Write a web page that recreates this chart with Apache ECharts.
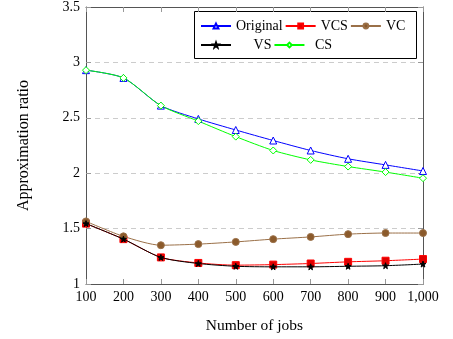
<!DOCTYPE html>
<html><head><meta charset="utf-8">
<script src="https://cdn.jsdelivr.net/npm/echarts@6/dist/echarts.min.js"></script>
<style>html,body{margin:0;padding:0;background:#fff}#c{width:453px;height:339px}</style>
</head><body><div id="c"></div>
<script>
const jobs = [100,200,300,400,500,600,700,800,900,1000];
const original = [2.93,2.86,2.61,2.49,2.39,2.295,2.205,2.13,2.075,2.02];
const vcs = [1.545,1.405,1.24,1.19,1.17,1.175,1.185,1.20,1.21,1.225];
const vc = [1.565,1.43,1.35,1.36,1.38,1.405,1.425,1.45,1.46,1.46];
const vs = [1.545,1.405,1.24,1.185,1.16,1.155,1.155,1.16,1.165,1.18];
const cs = [2.93,2.86,2.61,2.47,2.33,2.205,2.12,2.06,2.01,1.955];
const yTicks = [1,1.5,2,2.5,3,3.5];

const font = 'Liberation Serif';
const pair = a => a.map((v,i)=>[jobs[i], v]);
function ser(name, data, color, symbol, size, fill, z){
  return {name, type:'line', data: pair(data), smooth:0.25, symbol, symbolSize:size,
    lineStyle:{color, width:1}, itemStyle:{color: fill, borderColor: color, borderWidth:1},
    z: z||2, animation:false};
}
const star = 'path://M0,-10 L2.35,-3.24 L9.51,-3.09 L3.8,1.24 L5.88,8.09 L0,4 L-5.88,8.09 L-3.8,1.24 L-9.51,-3.09 L-2.35,-3.24 Z';
const series = [
  ser('Original', original, '#0000ff', 'triangle', 7, '#ffffff', 3),
  ser('VCS', vcs, '#ff0000', 'rect', 7, '#e00000', 2),
  ser('VC', vc, '#9a7048', 'circle', 7, '#8b5a2b', 2),
  ser('VS', vs, '#000000', star, 6, '#000000', 4),
  ser('CS', cs, '#00ff00', 'diamond', 7, '#ffffff', 3)
];
const rs = (w, al) => ({width:w, align:al, fontFamily:font, fontSize:14, color:'#000'});
const legText = {fontFamily: font, fontSize: 14, color:'#000',
  rich:{a:rs(53,'left'), b:rs(28,'left'), c:rs(24,'left'), d:rs(53,'center'), e:rs(28,'center')}};
const key = {Original:'a', VCS:'b', VC:'c', VS:'d', CS:'e'};
const chart = echarts.init(document.getElementById('c'), null, {renderer:'canvas'});
const legBase = {left:200, padding:0, itemWidth:30, itemHeight:6, itemGap:2,
  textStyle:legText, formatter:n=>'{'+key[n]+'|'+n+'}', selectedMode:false};
chart.setOption({
  animation:false,
  grid:{left:86, right:30, top:6, bottom:53, containLabel:false},
  legend:[
    Object.assign({data:['Original','VCS','VC'], top:19}, legBase),
    Object.assign({data:['VS','CS'], top:38}, legBase)
  ],
  graphic:[{type:'rect', left:194, top:11, shape:{width:222, height:47}, style:{fill:'rgba(0,0,0,0)', stroke:'#000', lineWidth:1}, z:0}],
  xAxis:[
    {type:'value', min:100, max:1000, interval:100, position:'bottom',
     name:'Number of jobs', nameLocation:'middle', nameGap:34,
     nameTextStyle:{fontFamily:font, fontSize:15.5, color:'#000'},
     axisLine:{lineStyle:{color:'#555', width:1}},
     axisTick:{inside:true, length:5, lineStyle:{color:'#999'}},
     axisLabel:{fontFamily:font, fontSize:14, color:'#000', margin:6,
       formatter:v=> v>=1000 ? (Math.floor(v/1000)+','+String(v%1000).padStart(3,'0')) : String(v)},
     splitLine:{show:false}},
    {type:'value', min:100, max:1000, interval:100, position:'top',
     axisLine:{show:true, lineStyle:{color:'#555', width:1}},
     axisTick:{inside:true, length:5, lineStyle:{color:'#999'}},
     axisLabel:{show:false}, splitLine:{show:false}}
  ],
  yAxis:[
    {type:'value', min:yTicks[0], max:yTicks[yTicks.length-1], interval:0.5,
     name:'Approximation ratio', nameLocation:'middle', nameGap:54, nameRotate:90,
     nameTextStyle:{fontFamily:font, fontSize:16, color:'#000'},
     axisLine:{show:true, lineStyle:{color:'#555', width:1}},
     axisTick:{show:true, inside:true, length:5, lineStyle:{color:'#999'}},
     axisLabel:{fontFamily:font, fontSize:14, color:'#000', margin:6, formatter:v=>String(v)},
     splitLine:{show:true, lineStyle:{color:'#ccc', type:[5,4], width:1}}},
    {type:'value', min:yTicks[0], max:yTicks[yTicks.length-1], interval:0.5, position:'right',
     axisLine:{show:true, lineStyle:{color:'#555', width:1}},
     axisTick:{show:true, inside:true, length:5, lineStyle:{color:'#999'}},
     axisLabel:{show:false}, splitLine:{show:false}}
  ],
  series
});
</script></body></html>
